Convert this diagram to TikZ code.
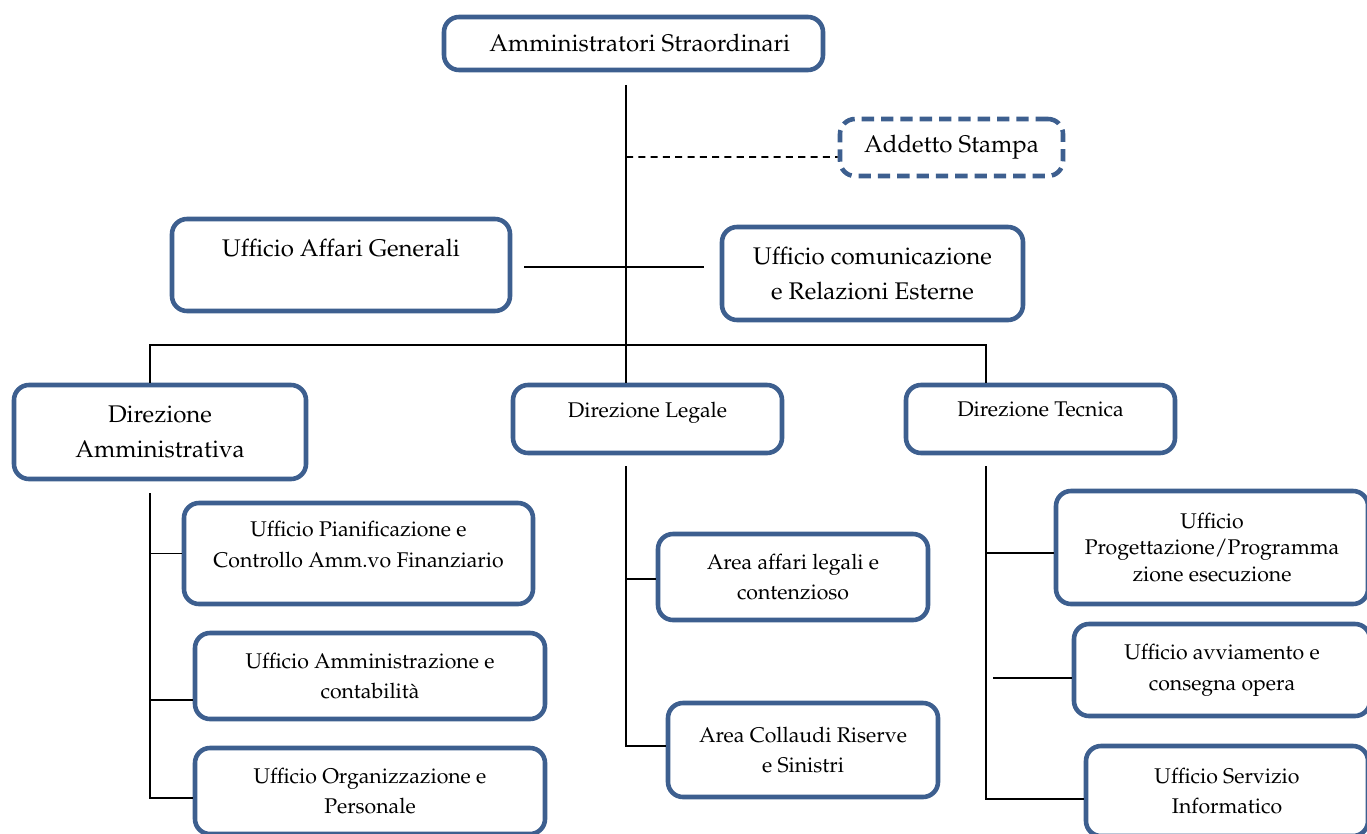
\documentclass[tikz,border=0pt]{standalone}
\usepackage[T1]{fontenc}
\renewcommand{\rmdefault}{ppl}
\definecolor{boxblue}{RGB}{61,95,143}

\tikzset{
  unit box/.style={draw=boxblue, line width=2.6pt, rounded corners=3mm,
    align=center, inner sep=2pt, fill=white},
  big box/.style={unit box, font=\fontsize{13.7}{20}\selectfont},
  small box/.style={unit box, font=\fontsize{12.1}{17.6}\selectfont},
  press box/.style={big box, dash pattern=on 7pt off 4pt},
  link/.style={line width=0.9pt},
  staff link/.style={link, dash pattern=on 4pt off 3pt}
}

\begin{document}
\begin{tikzpicture}[x=0.2mm, y=-0.2mm]
\useasboundingbox (0,0) rectangle (1367,834);
\clip (0,0) rectangle (1367,834);

% vertice
\node[big box, minimum width=75.8mm, minimum height=10.6mm] (commissari) at (633.5,43.5) {\hspace*{2.5mm}Amministratori Straordinari};
\node[press box, minimum width=44.6mm, minimum height=11.4mm] (stampa) at (951.5,147.5) {Addetto Stampa};
\node[big box, minimum width=67.6mm, minimum height=18.4mm, text depth=20pt] (affari) at (341,265) {Ufficio Affari Generali};
\node[big box, minimum width=60.2mm, minimum height=18.6mm, font=\fontsize{13.7}{20.4}\selectfont] (comunicazione) at (872.5,273.5) {Ufficio comunicazione\\e Relazioni Esterne};

% direzioni
\node[big box, minimum width=58.4mm, minimum height=18.8mm] (dir amm) at (160,432) {Direzione\\Amministrativa};
\node[small box, minimum width=53.8mm, minimum height=13.6mm, text depth=11pt] (dir leg) at (647.5,419) {Direzione Legale};
\node[small box, minimum width=53.8mm, minimum height=13.6mm, text depth=11pt] (dir tec) at (1040.5,419) {Direzione Tecnica};

% uffici amministrativi
\node[small box, minimum width=69.8mm, minimum height=20.2mm, text depth=10pt] (pianificazione) at (358.5,553.5) {Ufficio Pianificazione e\\Controllo Amm.vo Finanziario};
\node[small box, minimum width=70mm, minimum height=17.2mm] (contabilita) at (370,676) {Ufficio Amministrazione e\\contabilit\`a};
\node[small box, minimum width=70mm, minimum height=17.2mm] (personale) at (370,791) {Ufficio Organizzazione e\\Personale};

% aree legali
\node[small box, minimum width=54mm, minimum height=17.2mm] (contenzioso) at (793,577) {Area affari legali e\\contenzioso};
\node[small box, minimum width=54mm, minimum height=18.8mm] (collaudi) at (803,750) {Area Collaudi Riserve\\e Sinistri};

% uffici tecnici
\node[small box, minimum width=62.4mm, minimum height=22.6mm, font=\fontsize{12.1}{15.3}\selectfont] (progettazione) at (1212,547.5) {Ufficio\\Progettazione/Programma\\zione esecuzione};
\node[small box, minimum width=59.2mm, minimum height=18.4mm] (avviamento) at (1222,670) {Ufficio avviamento e\\consegna opera};
\node[small box, minimum width=56.4mm, minimum height=18mm] (informatico) at (1227,791) {Ufficio Servizio\\Informatico};

% collegamenti
\coordinate (trunk) at (626,85);
\draw[link] (trunk) -- (trunk |- dir leg.north);
\draw[staff link] (trunk |- 0,157) -- ([yshift=-1.9mm]stampa.west);
\draw[link, shorten <=2.4mm, shorten >=3.2mm] ([yshift=-0.4mm]affari.east) -- ([yshift=-0.4mm]affari.east -| comunicazione.west);
\coordinate (bus) at (626,345);
\draw[link] ([xshift=-2mm]dir amm.north) |- (bus) -| ([xshift=-10.9mm]dir tec.north);

\coordinate (amm spine) at (150,493);
\draw[link] (amm spine) |- (pianificazione.west);
\draw[link] (amm spine) |- ([yshift=-4.8mm]contabilita.west);
\draw[link] (amm spine) |- ([yshift=-1.4mm]personale.west);

\coordinate (leg spine) at (626,466);
\draw[link] (leg spine) |- ([yshift=-0.4mm]contenzioso.west);
\draw[link] (leg spine) |- ([yshift=0.8mm]collaudi.west);

\coordinate (tec spine) at (986,466);
\draw[link] (tec spine) |- ([yshift=-1.1mm]progettazione.west);
\draw[link] ([yshift=-1.6mm]avviamento.west) -- ++(-15.8mm,0);
\draw[link] (tec spine) |- ([yshift=-1.6mm]informatico.west);
\end{tikzpicture}
\end{document}
